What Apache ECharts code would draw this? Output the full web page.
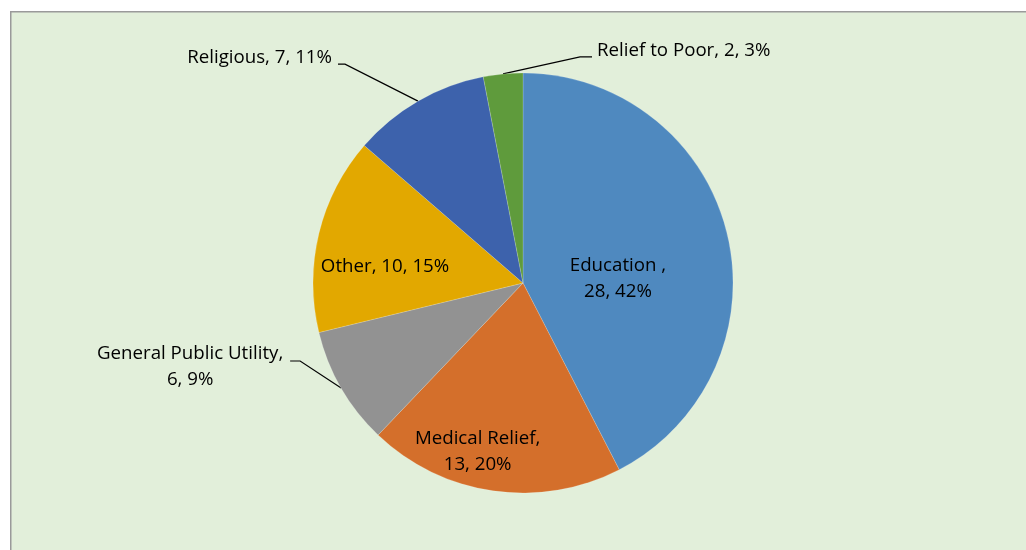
<!DOCTYPE html>
<html>
<head>
<meta charset="utf-8">
<script src="https://cdn.jsdelivr.net/npm/echarts@6/dist/echarts.min.js"></script>
<style>
  html, body { margin: 0; padding: 0; background: #ffffff; }
  #chart { width: 1026px; height: 550px; }
</style>
</head>
<body>
<div id="chart"></div>
<script>
// ---- data ----
const categories = ['Education ', 'Medical Relief', 'General Public Utility', 'Other', 'Religious', 'Relief to Poor'];
const values = [28, 13, 6, 10, 7, 2];
const colors = ['#4F89BF', '#D46F2B', '#929292', '#E2A800', '#3D62AC', '#5F9B3C'];
// label styling per slice
const labelInside = [true, true, false, true, false, false];
const labelWrap = [true, true, true, false, false, false];
// label placement offsets (style): inside -> shift of label centre; outside -> relative to slice edge anchor
const insideShift = { 0: [-10, 21], 1: [-30, 62], 3: [-33, 9] };
const outsideLayout = {
  2: { tx: -151, ty: -21, align: 'center', mid: [-41, -27], end: [-51, -27] },
  4: { tx: -86, ty: -43, align: 'right', mid: [-73, -37], end: [-80, -37] },
  5: { tx: 94, ty: -23, align: 'left', mid: [77, -17], end: [89, -17] }
};

const chart = echarts.init(document.getElementById('chart'), null, { renderer: 'canvas' });

const data = categories.map((c, i) => ({
  name: c,
  value: values[i],
  itemStyle: { color: colors[i] },
  label: { position: labelInside[i] ? 'inside' : 'outside' },
  labelLine: { show: !labelInside[i] }
}));

const option = {
  backgroundColor: '#ffffff',
  animation: false,
  graphic: [{
    type: 'rect',
    left: 10, top: 11,
    shape: { width: 1030, height: 560 },
    style: { fill: '#E2EFDA', stroke: '#9a9a9a', lineWidth: 1.5 },
    z: -10
  }],
  series: [{
    type: 'pie',
    center: [523, 283],
    radius: 210,
    startAngle: 90,
    clockwise: true,
    percentPrecision: 0,
    data: data,
    itemStyle: { borderColor: 'rgba(255,255,255,0.35)', borderWidth: 0.5 },
    label: {
      color: '#000000',
      fontFamily: 'Open Sans',
      fontSize: 18.7,
      lineHeight: 26,
      align: 'center',
      formatter: p => {
        const sep = labelWrap[p.dataIndex] ? ',\n' : ', ';
        return p.name + sep + p.value + ', ' + p.percent + '%';
      }
    },
    labelLine: {
      lineStyle: { color: '#000000', width: 1.2 },
      smooth: false
    },
    labelLayout: function (p) {
      const i = p.dataIndex;
      const r = p.labelRect;
      if (insideShift[i]) {
        const s = insideShift[i];
        return {
          x: r.x + r.width / 2 + s[0],
          y: r.y + r.height / 2 + s[1],
          align: 'center',
          verticalAlign: 'middle'
        };
      }
      const o = outsideLayout[i];
      if (o && p.labelLinePoints) {
        const a = p.labelLinePoints[0];
        return {
          x: a[0] + o.tx,
          y: a[1] + o.ty,
          align: o.align,
          verticalAlign: 'middle',
          labelLinePoints: [
            [a[0], a[1]],
            [a[0] + o.mid[0], a[1] + o.mid[1]],
            [a[0] + o.end[0], a[1] + o.end[1]]
          ]
        };
      }
      return {};
    }
  }]
};
chart.setOption(option);
</script>
</body>
</html>
